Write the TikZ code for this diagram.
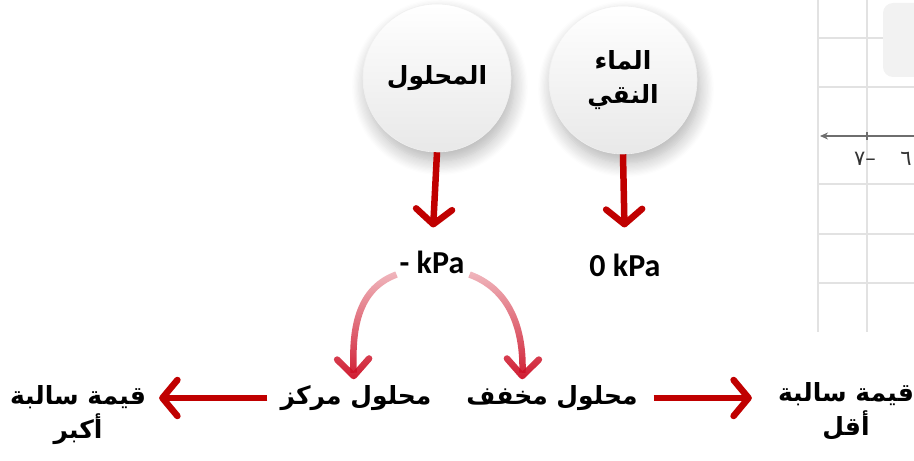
\documentclass[tikz,border=0pt]{standalone}
\usepackage{fontspec}
\setmainfont{Carlito}
\newfontfamily\arabicfont[Script=Arabic]{DejaVu Sans}
\newfontfamily\digitfont{DejaVu Sans}
\TeXXeTstate=1
\usetikzlibrary{arrows.meta,shadows.blur,fadings}

\definecolor{arrowred}{RGB}{192,0,0}
\definecolor{curvered}{RGB}{205,16,38}
\definecolor{gridgrey}{RGB}{226,226,226}
\definecolor{axisgrey}{RGB}{110,110,110}
\definecolor{panelgrey}{RGB}{242,242,242}

% tail of the curved arrows fades out towards the top
\tikzfading[name=tailfade, top color=transparent!70, bottom color=transparent!0]

\tikzset{
  bubble/.style={circle, minimum size=148pt, inner sep=0pt,
    draw=black!6, line width=0.6pt,
    top color=white, middle color=white, bottom color=black!9,
    blur shadow={shadow xshift=3pt, shadow yshift=-9pt,
      shadow opacity=30, shadow blur radius=14pt, shadow blur steps=12}},
  artext/.style={font=\arabicfont\bfseries\fontsize{25}{34}\selectfont,
    text=black, align=center, inner sep=1pt},
  kpatext/.style={font=\bfseries\fontsize{32}{34}\selectfont,
    text=black, inner sep=1pt},
  redarrow/.style={draw=arrowred, line width=6.5pt,
    -{Straight Barb[length=15pt, width=36pt, round]}},
  curvearrow/.style={draw=curvered, line width=6.5pt, path fading=tailfade,
    -{Straight Barb[length=17pt, width=32pt, round]}},
  gridline/.style={draw=gridgrey, line width=1.6pt},
}

\begin{document}
\begin{tikzpicture}[x=1pt, y=1pt]
  \useasboundingbox (0,0) rectangle (914,461);
  \clip (0,0) rectangle (914,461);

  % number-line panel at the right edge
  \foreach \gx in {818,867} \draw[gridline] (\gx,461) -- (\gx,129);
  \foreach \gy in {423,374,277,227,178} \draw[gridline] (818,\gy) -- (914,\gy);
  \fill[panelgrey, rounded corners=10pt] (883,384) rectangle (940,458);
  \draw[axisgrey, line width=1.4pt, {Stealth[length=8pt, width=7pt]}-] (820,325) -- (914,325);
  \draw[axisgrey, line width=1.2pt] (867,321) -- (867,329);
  \node[font=\digitfont\fontsize{21}{23}\selectfont, text=black!80] (tickA) at (865,302) {٧–};
  \node[font=\digitfont\fontsize{21}{23}\selectfont, text=black!80] (tickB) at (906,302) {٦};

  % the two bubbles
  \node[bubble, artext] (solution) at (437,383) {\beginR المحلول\endR};
  \node[bubble, artext] (water) at (623,381) {\beginR الماء\endR\\\beginR النقي\endR};

  % pressure values
  \node[kpatext] (kpaneg) at (432,199) {- kPa};
  \node[kpatext] (kpazero) at (625,196) {0 kPa};

  % bottom row
  \node[artext] (conc) at (356,63) {\beginR محلول مركز\endR};
  \node[artext] (dil) at (552,63) {\beginR محلول مخفف\endR};
  \node[artext] (bigger) at (78,46) {\beginR قيمة سالبة\endR\\\beginR أكبر\endR};
  \node[artext] (smaller) at (846,50) {\beginR قيمة سالبة\endR\\\beginR أقل\endR};

  % connectors
  \draw[redarrow, shorten >=22pt] (solution.south) -- (kpaneg.north);
  \draw[redarrow, shorten >=25pt] (water.south) -- (kpazero.north);
  \draw[curvearrow, shorten >=5pt] ([xshift=-2pt]kpaneg.south west) to[out=200, in=92] ([xshift=-2pt]conc.north);
  \draw[curvearrow, shorten >=5pt] ([xshift=4pt]kpaneg.south east) to[out=-20, in=88] ([xshift=-30pt]dil.north);
  \draw[redarrow, shorten <=12pt, shorten >=12pt] (conc.west) -- (bigger.east |- conc.west);
  \draw[redarrow, shorten <=15pt, shorten >=25pt] (dil.east) -- (smaller.west |- dil.east);
\end{tikzpicture}
\end{document}
